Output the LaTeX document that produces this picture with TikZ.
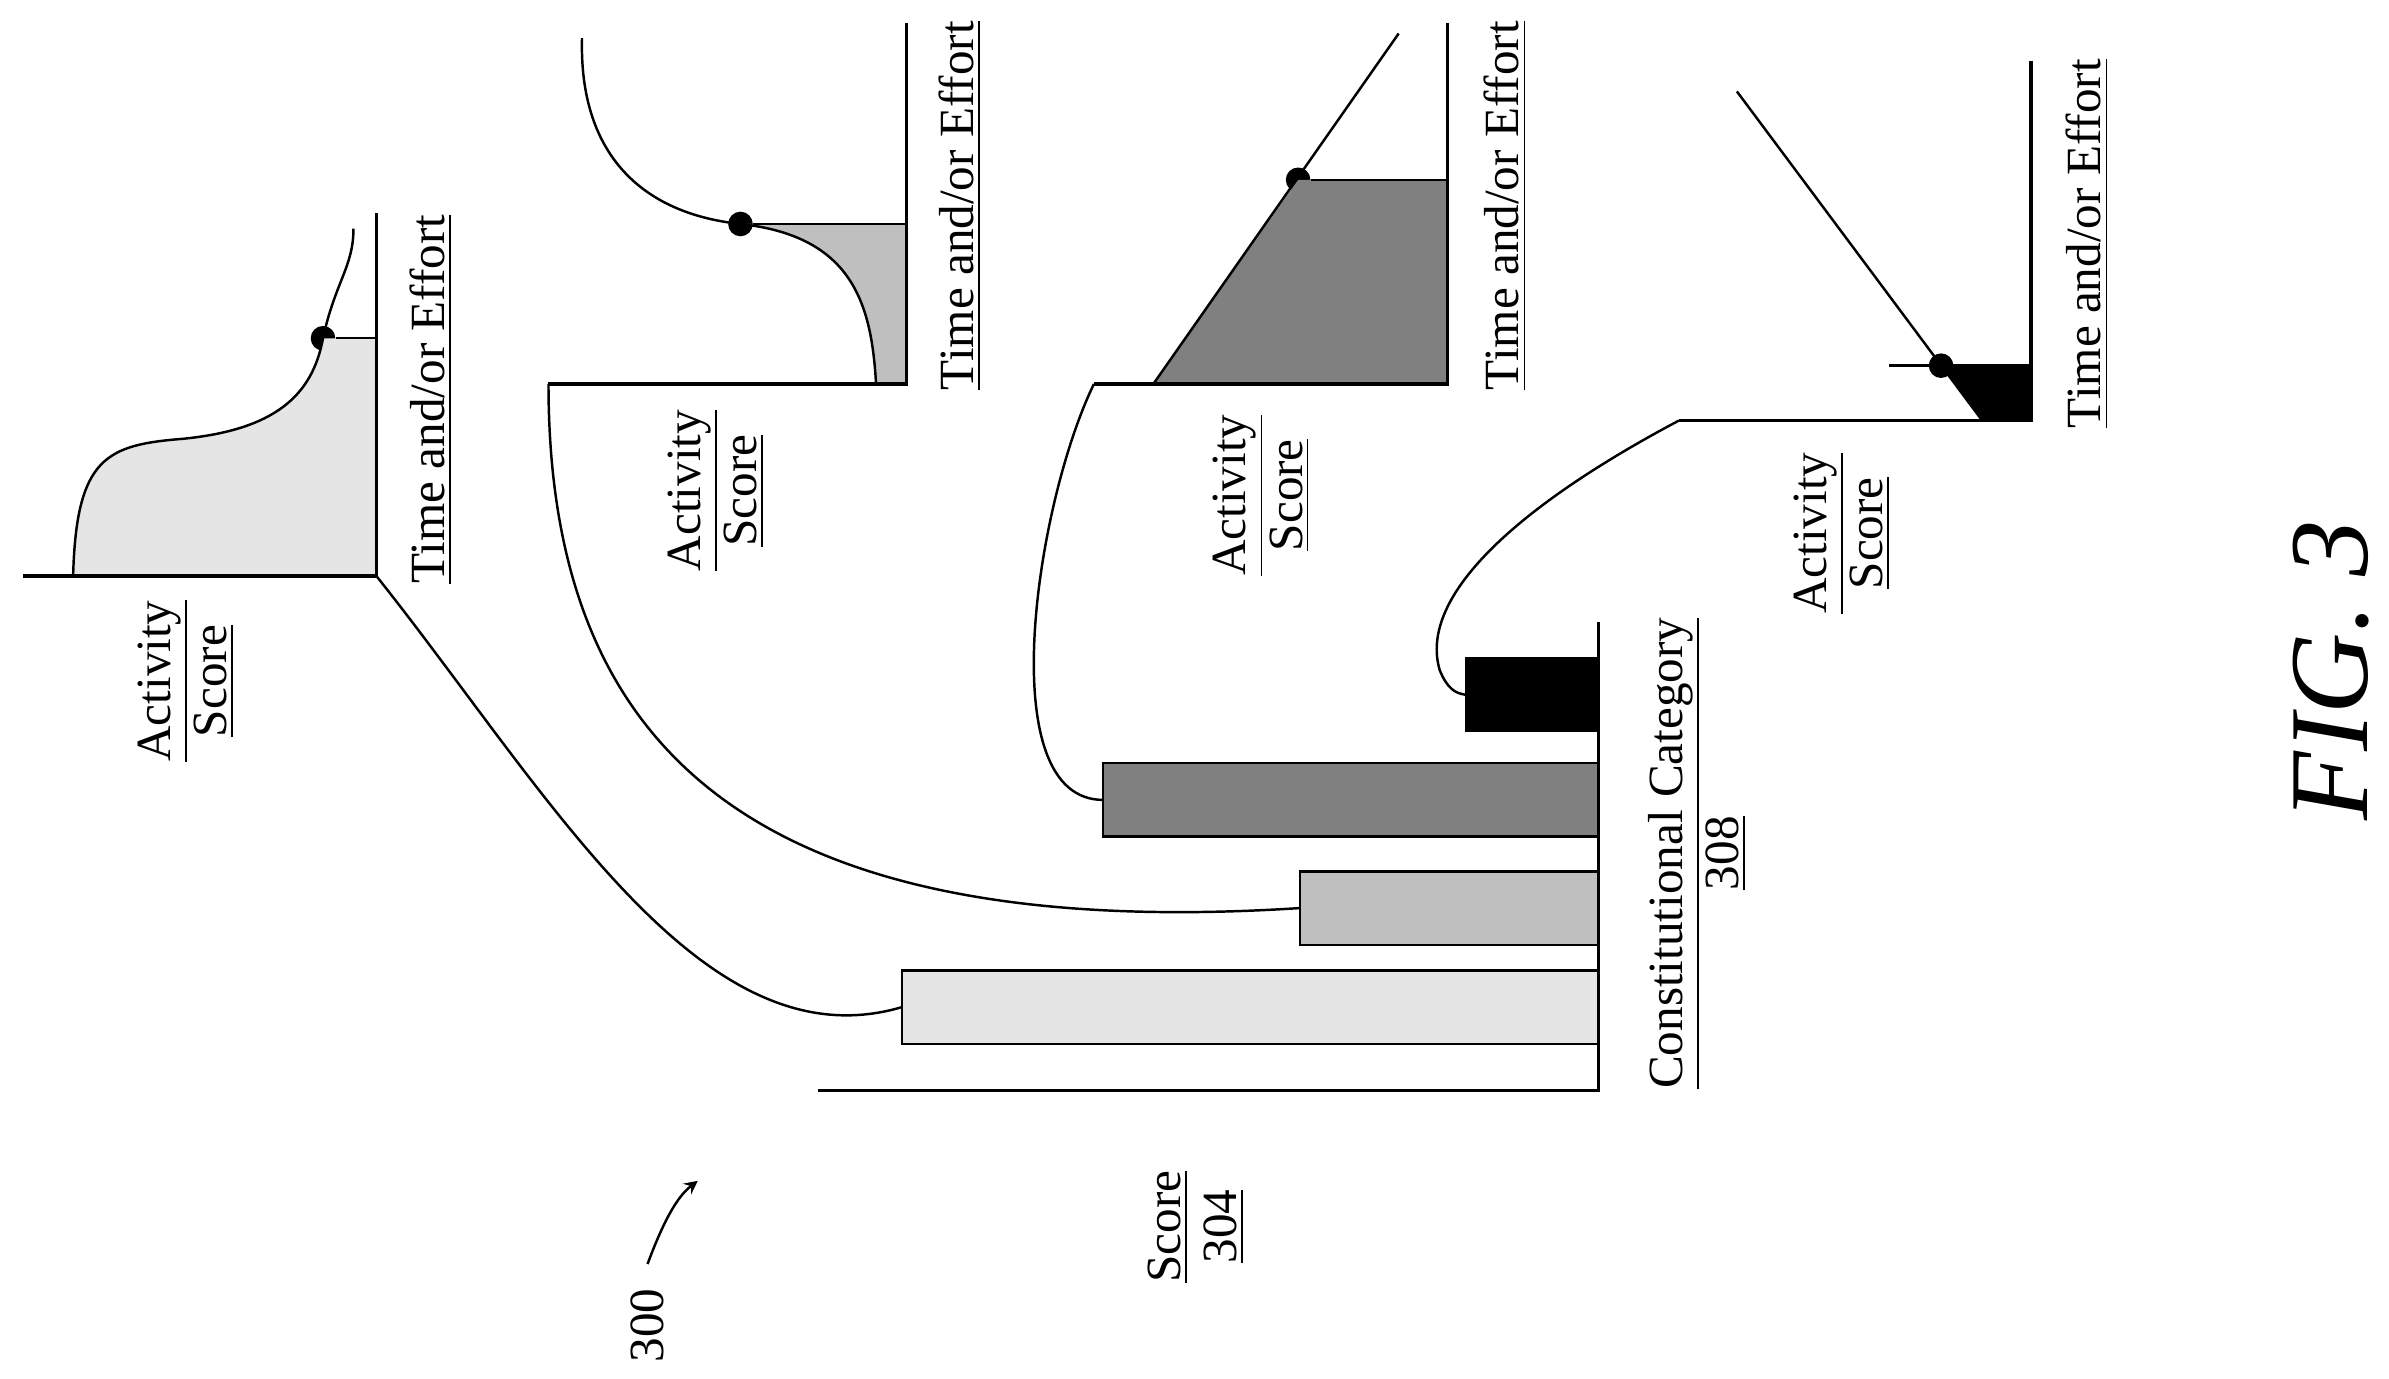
\documentclass[tikz,border=0pt]{standalone}
\usepackage{fontspec}
\setmainfont{Liberation Serif}
\begin{document}
\begin{tikzpicture}[x=0.01524cm,y=-0.01524cm,
        axis/.style={line width=0.9pt},
        link/.style={line width=0.7pt},
        dot/.style={circle,fill=black,inner sep=0pt,minimum size=7pt},
        lbl/.style={rotate=90,align=center,font=\fontsize{14}{16}\selectfont},
        bar/.style={draw,line width=0.6pt}
    ]
        \useasboundingbox (0,0) rectangle (1568,905);

        % Bar chart
        \draw[axis] (1049,408) -- (1049,716) -- (537,716);
        \draw[bar,fill=black!10] (592,637) rectangle (1049,685);
        \draw[bar,fill=black!25] (853,572) rectangle (1049,620);
        \draw[bar,fill=black!50] (724,501) rectangle (1049,549);
        \draw[bar,fill=black] (962,432) rectangle (1049,480);
        \coordinate (bA) at (592,661);
        \coordinate (bB) at (853,596);
        \coordinate (bC) at (724,525);
        \coordinate (bD) at (962,456);
        \node[lbl] (cat) at (1114,560) {\underline{Constitutional Category}\\\underline{308}};
        \node[lbl] (score) at (785,805) {\underline{Score}\\\underline{304}};
        \node[lbl] (ref) at (425,870) {300};
        \draw[link,-stealth] (ref.east) ++(0,-8) .. controls (436,800) and (445,785) .. (458,775);
        \node[rotate=90,font=\fontsize{32}{34}\selectfont\itshape] (fig) at (1530,440) {FIG. 3};

        % Graph 1
        \coordinate (gA) at (247,378);
        \node[dot] (dA) at (212,222) {};
        \fill[black!10] (48,378) .. controls (50,300) and (70,292) .. (120,288)
            .. controls (180,282) and (205,260) .. (212,222) -- (247,222) -- (247,378) -- cycle;
        \draw[link] (48,378) .. controls (50,300) and (70,292) .. (120,288)
            .. controls (180,282) and (205,260) .. (212,222) .. controls (220,185) and (232,175) .. (232,150);
        \draw[link] (dA) -- (247,222);
        \draw[axis] (247,140) -- (gA) -- (15,378);
        \node[lbl] at (283,262) {\underline{Time and/or Effort}};
        \node[lbl] at (122,447) {\underline{Activity}\\\underline{Score}};

        % Graph 2
        \coordinate (gB) at (360,252);
        \node[dot] (dB) at (486,147) {};
        \fill[black!25] (486,147) .. controls (560,155) and (572,200) .. (575,252) -- (595,252) -- (595,147) -- cycle;
        \draw[link] (382,25) .. controls (380,100) and (420,140) .. (486,147)
            .. controls (560,155) and (572,200) .. (575,252);
        \draw[link] (dB) -- (595,147);
        \draw[axis] (595,15) -- (595,252) -- (gB);
        \node[lbl] at (630,135) {\underline{Time and/or Effort}};
        \node[lbl] at (470,322) {\underline{Activity}\\\underline{Score}};

        % Graph 3
        \coordinate (gC) at (718,252);
        \node[dot] (dC) at (852,118) {};
        \fill[black!50] (757,252) -- (852,118) -- (950,118) -- (950,252) -- cycle;
        \draw[link] (757,252) -- (918,22);
        \draw[link] (dC) -- (950,118);
        \draw[axis] (950,15) -- (950,252) -- (gC);
        \node[lbl] at (988,135) {\underline{Time and/or Effort}};
        \node[lbl] at (828,325) {\underline{Activity}\\\underline{Score}};

        % Graph 4
        \coordinate (gD) at (1102,276);
        \node[dot] (dD) at (1274,240) {};
        \fill[black] (1274,240) -- (1333,240) -- (1333,276) -- (1301,276) -- cycle;
        \draw[link] (1140,60) -- (1301,276);
        \draw[link] (1240,240) -- (1333,240);
        \draw[axis] (1333,40) -- (1333,276) -- (gD);
        \node[lbl] at (1370,160) {\underline{Time and/or Effort}};
        \node[lbl] at (1209,350) {\underline{Activity}\\\underline{Score}};

        % Links from graphs to bars
        \draw[link] (gA) .. controls (360,520) and (460,700) .. (bA);
        \draw[link] (gB) .. controls (360,480) and (480,620) .. (bB);
        \draw[link] (gC) .. controls (680,330) and (650,525) .. (bC);
        \draw[link] (gD) .. controls (1000,330) and (930,390) .. (945,440) .. controls (950,452) and (955,455) .. (bD);
\end{tikzpicture}
\end{document}
